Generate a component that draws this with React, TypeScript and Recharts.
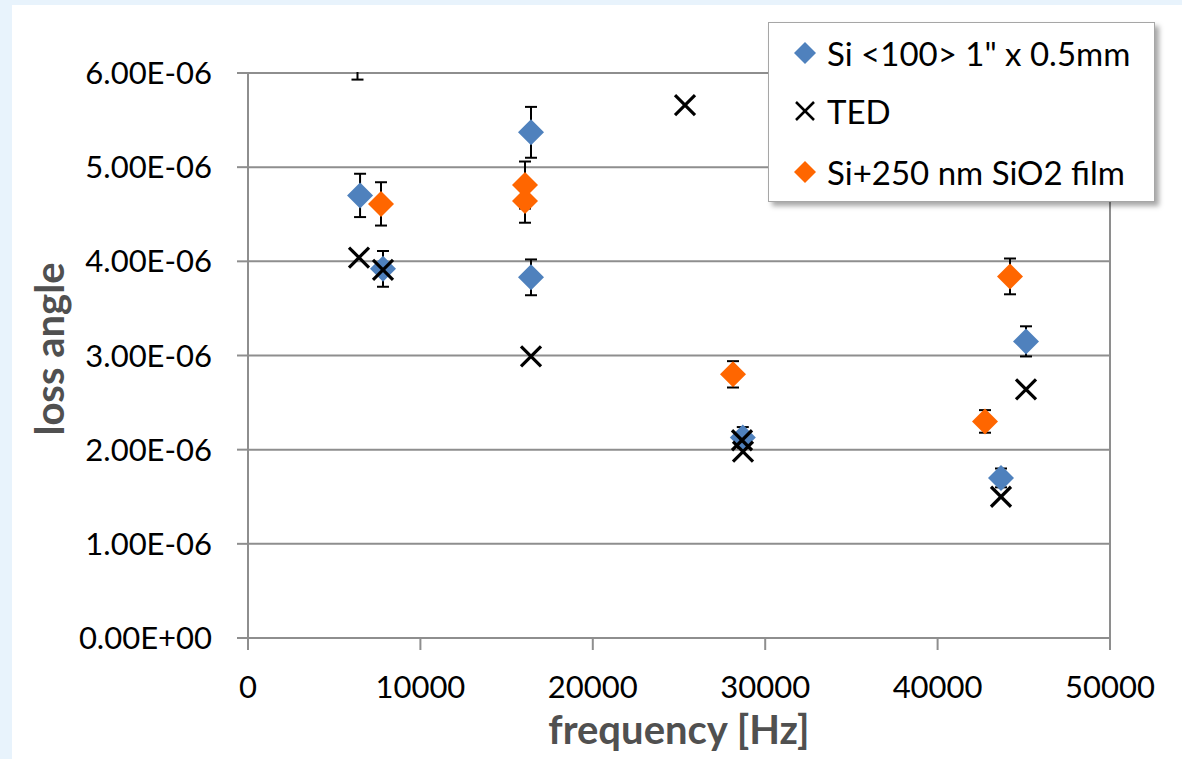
import React from 'react';
import { ScatterChart, Scatter, XAxis, YAxis, CartesianGrid, ErrorBar, ReferenceLine } from 'recharts';

// ---- data ----
const seriesNames = ['Si <100> 1" x 0.5mm', 'TED', 'Si+250 nm SiO2 film'];
const seriesColors = ['#4F81BD', '#000000', '#FF6600'];

const siFreq = [6351, 6500, 7830, 16415, 16415, 28700, 43677, 45128];
const siLoss = [6.2e-6, 4.70e-6, 3.92e-6, 5.37e-6, 3.83e-6, 2.13e-6, 1.70e-6, 3.15e-6];
const siErr = [0.27e-6, 0.23e-6, 0.19e-6, 0.27e-6, 0.19e-6, 0.11e-6, 0.1e-6, 0.16e-6];

const tedFreq = [6439, 7830, 16415, 25348, 28654, 28712, 43677, 45128];
const tedLoss = [4.04e-6, 3.91e-6, 2.99e-6, 5.66e-6, 2.10e-6, 1.98e-6, 1.50e-6, 2.64e-6];

const filmFreq = [7714, 16067, 16067, 28132, 42749, 44200];
const filmLoss = [4.61e-6, 4.81e-6, 4.64e-6, 2.80e-6, 2.30e-6, 3.84e-6];
const filmErr = [0.23e-6, 0.25e-6, 0.23e-6, 0.14e-6, 0.12e-6, 0.19e-6];

const xTicks = [0, 10000, 20000, 30000, 40000, 50000];
const yTicks = [0, 1e-6, 2e-6, 3e-6, 4e-6, 5e-6, 6e-6];
const yTickLabels = ['0.00E+00', '1.00E-06', '2.00E-06', '3.00E-06', '4.00E-06', '5.00E-06', '6.00E-06'];

const xTitle = 'frequency [Hz]';
const yTitle = 'loss angle';

// ---- build tables ----
const siData = siFreq.map((f, i) => ({ f, v: siLoss[i], e: siErr[i] }));
const tedData = tedFreq.map((f, i) => ({ f, v: tedLoss[i] }));
const filmData = filmFreq.map((f, i) => ({ f, v: filmLoss[i], e: filmErr[i] }));

const GRID = '#8e8e8e';
const FONT = 'Lato, "Open Sans", sans-serif';

const diamond = (color: string, r: number) => (props: any) => {
  const { cx, cy } = props;
  if (cx == null || cy == null) return <g />;
  return (
    <polygon
      points={`${cx},${cy - r} ${cx + r},${cy} ${cx},${cy + r} ${cx - r},${cy}`}
      fill={color}
    />
  );
};

const cross = (color: string, r: number) => (props: any) => {
  const { cx, cy } = props;
  if (cx == null || cy == null) return <g />;
  return (
    <g stroke={color} strokeWidth={3.2}>
      <line x1={cx - r} y1={cy - r} x2={cx + r} y2={cy + r} />
      <line x1={cx - r} y1={cy + r} x2={cx + r} y2={cy - r} />
    </g>
  );
};

const LegendIcon = ({ idx }: { idx: number }) => {
  if (idx === 1) {
    return (
      <svg width={24} height={24}>
        <g stroke="#000" strokeWidth={2.5}>
          <line x1={3} y1={3} x2={21} y2={21} />
          <line x1={3} y1={21} x2={21} y2={3} />
        </g>
      </svg>
    );
  }
  return (
    <svg width={24} height={24}>
      <polygon points="12,1 23,12 12,23 1,12" fill={seriesColors[idx]} />
    </svg>
  );
};

export default function App() {
  return (
    <div
      style={{
        position: 'fixed',
        left: 0,
        top: 0,
        width: 1182,
        height: 759,
        background: '#e8f3fc',
        fontFamily: FONT,
        overflow: 'hidden',
      }}
    >
      <div style={{ position: 'absolute', left: 12, top: 5, width: 1170, height: 754, background: '#fff' }} />
      <div style={{ position: 'absolute', left: 0, top: 0 }}>
        <ScatterChart
          width={1182}
          height={759}
          margin={{ top: 73, right: 72, bottom: 0, left: 0 }}
          style={{ fontFamily: FONT }}
        >
          <CartesianGrid vertical={false} stroke={GRID} strokeWidth={2} />
          <XAxis
            type="number"
            dataKey="f"
            domain={[0, 50000]}
            ticks={xTicks}
            interval={0}
            height={121}
            tickSize={12}
            tickMargin={26}
            axisLine={{ stroke: GRID, strokeWidth: 2 }}
            tickLine={{ stroke: GRID, strokeWidth: 2 }}
            tick={{ fill: '#000', fontSize: 31, fontFamily: FONT }}
          />
          <YAxis
            type="number"
            dataKey="v"
            domain={[0, 6e-6]}
            allowDataOverflow
            ticks={yTicks}
            interval={0}
            width={248}
            tickSize={11}
            tickMargin={25}
            axisLine={{ stroke: GRID, strokeWidth: 2 }}
            tickLine={{ stroke: GRID, strokeWidth: 2 }}
            tick={{ fill: '#000', fontSize: 31, fontFamily: FONT }}
            tickFormatter={(_v: number, i: number) => yTickLabels[i]}
          />
          <ReferenceLine x={50000} stroke={GRID} strokeWidth={2} />
          <Scatter
            name={seriesNames[0]}
            data={siData}
            fill={seriesColors[0]}
            shape={diamond(seriesColors[0], 13)}
            isAnimationActive={false}
          >
            <ErrorBar dataKey="e" direction="y" width={6} stroke="#000" strokeWidth={2} />
          </Scatter>
          <Scatter
            name={seriesNames[1]}
            data={tedData}
            fill={seriesColors[1]}
            shape={cross(seriesColors[1], 10)}
            isAnimationActive={false}
          />
          <Scatter
            name={seriesNames[2]}
            data={filmData}
            fill={seriesColors[2]}
            shape={diamond(seriesColors[2], 13)}
            isAnimationActive={false}
          >
            <ErrorBar dataKey="e" direction="y" width={6} stroke="#000" strokeWidth={2} />
          </Scatter>
          <text
            x={679}
            y={744}
            textAnchor="middle"
            fontSize={40}
            fontWeight="bold"
            fill="#505050"
            fontFamily={FONT}
          >
            {xTitle}
          </text>
          <text
            x={64}
            y={349}
            textAnchor="middle"
            fontSize={40}
            fontWeight="bold"
            fill="#505050"
            fontFamily={FONT}
            transform="rotate(-90 64 349)"
          >
            {yTitle}
          </text>
        </ScatterChart>
      </div>
      {/* clip anything drawn above the top of the plot area */}
      <div style={{ position: 'absolute', left: 250, top: 5, width: 932, height: 67, background: '#fff' }} />
      <div
        style={{
          position: 'absolute',
          left: 768,
          top: 22,
          width: 385,
          height: 178,
          background: '#fff',
          border: '1.5px solid #a6a6a6',
          boxShadow: '4px 4px 5px rgba(0,0,0,0.35)',
        }}
      >
        {seriesNames.map((name, i) => (
          <div
            key={name}
            style={{
              position: 'absolute',
              left: 24,
              top: [30, 88, 149][i] - 20,
              height: 40,
              display: 'flex',
              alignItems: 'center',
              whiteSpace: 'nowrap',
              fontSize: 33,
              color: '#000',
            }}
          >
            <LegendIcon idx={i} />
            <span style={{ marginLeft: 10 }}>{name}</span>
          </div>
        ))}
      </div>
    </div>
  );
}
